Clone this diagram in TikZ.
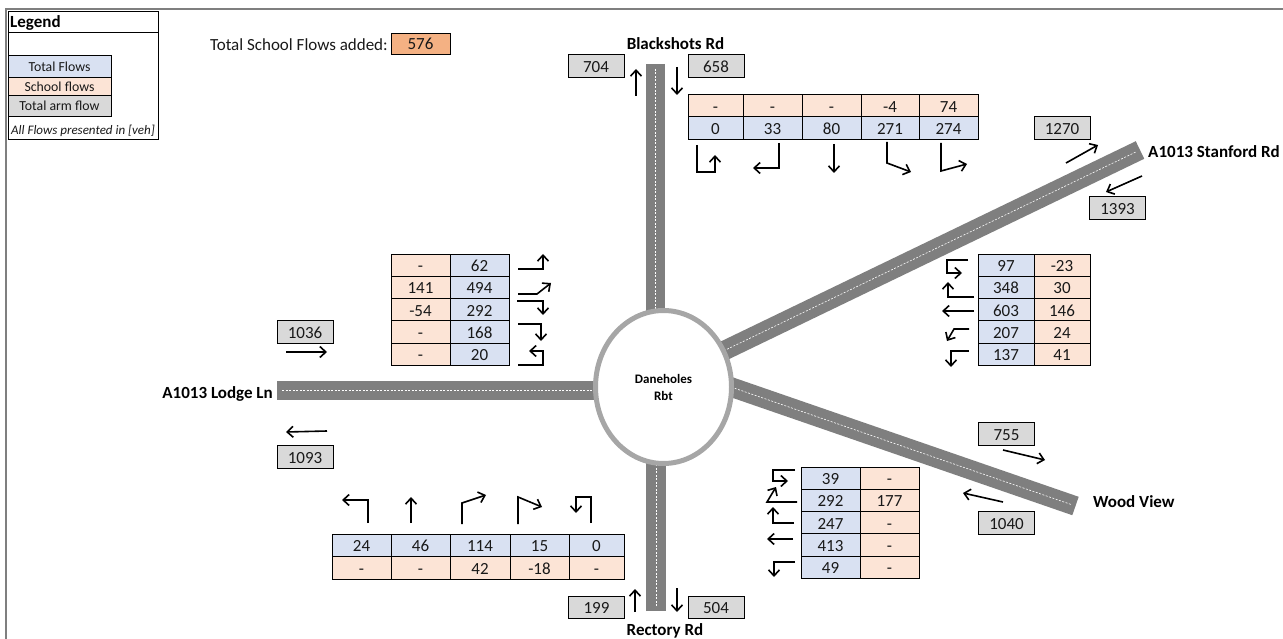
\documentclass[tikz,border=0pt]{standalone}
\usepackage{fontspec}
\setmainfont{Carlito}
\usetikzlibrary{arrows.meta,shapes.geometric}
\definecolor{totalfill}{HTML}{D9E1F2}
\definecolor{schoolfill}{HTML}{FCE4D6}
\definecolor{armfill}{HTML}{D9D9D9}
\definecolor{addedfill}{HTML}{F4B183}
\definecolor{roadgrey}{HTML}{7F7F7F}
\definecolor{ringgrey}{HTML}{A6A6A6}
\begin{document}
\begin{tikzpicture}[x=1pt, y=-1pt, >={Straight Barb[length=6pt,width=11pt]},
    every node/.style={font=\fontsize{17}{19}\selectfont, text=black!90, inner sep=0pt},
    cell/.style={draw=black, line width=0.9pt, minimum height=22.3pt, text height=12.8pt, text depth=0pt},
    totalcell/.style={cell, fill=totalfill},
    schoolcell/.style={cell, fill=schoolfill},
    armbox/.style={cell, fill=armfill, minimum width=56pt},
    legendcell/.style={cell, minimum width=103pt, text height=10.5pt, font=\fontsize{13.8}{15}\selectfont},
    roadname/.style={font=\fontsize{17}{19}\bfseries\selectfont, text=black},
    road/.style={line width=19.5pt, roadgrey},
    laneline/.style={line width=0.6pt, white, dash pattern=on 2pt off 1.5pt},
    flow/.style={line width=1.6pt, black, ->, miter limit=10}]
    % Parameters
    \def\rowheight{22.3}
    \useasboundingbox (0,0) rectangle (1283,639);

    % Outer frame
    \draw[line width=2pt, roadgrey] (6,639) -- (6,9) -- (1283,9);

    % Legend
    \node[draw=black, line width=0.9pt, fill=white, minimum width=150pt, minimum height=128pt] (legend) at (83,75) {};
    \draw[line width=0.9pt] (8,32) -- (158,32);
    \node[anchor=west, font=\fontsize{17}{19}\bfseries\selectfont, text=black] (legendtitle) at (10,22.5) {Legend};
    \node[legendcell, totalcell, text height=10.5pt, font=\fontsize{13.8}{15}\selectfont, minimum height=22pt] (legendtotal) at (59.5,66) {Total Flows};
    \node[legendcell, schoolcell, text height=10.5pt, font=\fontsize{13.8}{15}\selectfont, minimum height=18pt] (legendschool) at (59.5,86) {School flows};
    \node[legendcell, fill=armfill, minimum height=21pt] (legendarm) at (59.5,105.5) {Total arm flow};
    \node[font=\fontsize{13}{15}\itshape\selectfont] (legendnote) at (83,131) {All Flows presented in [veh]};

    % Total added
    \node[anchor=east] (addedlabel) at (388,45) {Total School Flows added:};
    \node[cell, fill=addedfill, minimum width=59pt, minimum height=21pt] (addedvalue) at (420.5,43.5) {576};

    % Road ends
    \coordinate (blackEnd) at (655.5,64);
    \coordinate (blackIn) at (655.5,340);
    \coordinate (rectoryEnd) at (656,611);
    \coordinate (rectoryIn) at (656,440);
    \coordinate (lodgeEnd) at (277,390.5);
    \coordinate (lodgeIn) at (620,390.5);
    \coordinate (stanfordEnd) at (1140,150);
    \coordinate (stanfordIn) at (700,362.3);
    \coordinate (woodEnd) at (1075.5,506);
    \coordinate (woodIn) at (700,376.3);

    % Draw the roads
    \foreach \roadEnd/\roadIn in {blackEnd/blackIn,rectoryEnd/rectoryIn,lodgeEnd/lodgeIn,stanfordEnd/stanfordIn,woodEnd/woodIn} {
        \draw[road] (\roadEnd) -- (\roadIn);
        \draw[laneline, shorten <=5pt] (\roadEnd) -- (\roadIn);
    }

    % Roundabout
    \node[ellipse, draw=ringgrey, line width=5pt, fill=white, minimum width=136pt, minimum height=153pt, align=center,
        font=\fontsize{13}{17}\bfseries\selectfont, text=black] (rbt) at (663.5,387) {Daneholes\\Rbt};

    % Road names
    \node[roadname] (blackName) at (675.5,44) {Blackshots Rd};
    \node[roadname] (rectoryName) at (665,631) {Rectory Rd};
    \node[roadname, anchor=east] (lodgeName) at (273,394) {A1013 Lodge Ln};
    \node[roadname, anchor=west] (stanfordName) at (1148,152) {A1013 Stanford Rd};
    \node[roadname, anchor=west] (woodName) at (1093,502) {Wood View};

    % Arm flows
    \node[armbox] (armBlackOut) at (596,66) {704};
    \node[armbox] (armBlackIn) at (716,66) {658};
    \node[armbox] (armStanfordOut) at (1062,128) {1270};
    \node[armbox] (armStanfordIn) at (1117.5,208) {1393};
    \node[armbox] (armWoodOut) at (1006.5,434) {755};
    \node[armbox] (armWoodIn) at (1006.5,523) {1040};
    \node[armbox] (armRectoryOut) at (596.5,607.5) {199};
    \node[armbox] (armRectoryIn) at (716,607.5) {504};
    \node[armbox] (armLodgeIn) at (305,332) {1036};
    \node[armbox] (armLodgeOut) at (305,457) {1093};

    \draw[flow] (636,96) -- (636,69);
    \draw[flow] (677,67) -- (677,95);
    \draw[flow] (1066,163) -- (1098,145);
    \draw[flow] (1142,176) -- (1106,192);
    \draw[flow] (1003,450) -- (1045,460);
    \draw[flow] (1003,502) -- (963,493);
    \draw[flow] (635,612) -- (635,589);
    \draw[flow] (677,588) -- (677,612);
    \draw[flow] (286,352) -- (327,352);
    \draw[flow] (327,431) -- (286,432);

    % Blackshots Rd table
    \foreach \xa/\xb/\sch/\tot [count=\i] in {688/743/-/0,743/802/-/33,802/861/-/80,861/919/-4/271,919/978/74/274} {
        \pgfmathsetmacro{\cw}{\xb-\xa}
        \node[schoolcell, minimum width=\cw] (blackS\i) at ({(\xa+\xb)/2},106) {\sch};
        \node[totalcell, minimum width=\cw] (blackT\i) at ({(\xa+\xb)/2},128) {\tot};
    }
    \draw[flow] (697,145) -- (697,172) -- (715,172) -- (715,155);
    \draw[flow] (779,143) -- (779,168) -- (753,168);
    \draw[flow] (834,144) -- (834,173);
    \draw[flow] (887,142) -- (887,163) -- (911,172);
    \draw[flow] (941,143) -- (941,171) -- (967,164);

    % Rectory Rd table
    \foreach \xa/\xb/\tot/\sch [count=\i] in {332/391/24/-,391/450/46/-,450/510/114/42,510/569/15/-18,569/624/0/-} {
        \pgfmathsetmacro{\cw}{\xb-\xa}
        \node[totalcell, minimum width=\cw] (rectoryT\i) at ({(\xa+\xb)/2},545.5) {\tot};
        \node[schoolcell, minimum width=\cw] (rectoryS\i) at ({(\xa+\xb)/2},568) {\sch};
    }
    \draw[flow] (368,523) -- (368,500) -- (342,500);
    \draw[flow] (411,523) -- (411,497);
    \draw[flow] (462,524) -- (462,503) -- (486,495);
    \draw[flow] (518,524) -- (518,497) -- (542,507);
    \draw[flow] (591,523) -- (591,497) -- (576,497) -- (576,513);

    % A1013 Lodge Ln table
    \foreach \sch/\tot [count=\i] in {-/62,141/494,-54/292,-/168,-/20} {
        \pgfmathsetmacro{\ypos}{254+(\i-0.5)*\rowheight}
        \node[schoolcell, minimum width=59] (lodgeS\i) at (420.5,\ypos) {\sch};
        \node[totalcell, minimum width=59] (lodgeT\i) at (479.5,\ypos) {\tot};
    }
    \draw[flow] (518,269) -- (543,269) -- (543,254);
    \draw[flow] (518,294) -- (537,294) -- (551,283);
    \draw[flow] (517,301) -- (543,301) -- (543,315);
    \draw[flow] (518,324) -- (541,324) -- (541,341);
    \draw[flow] (518,365) -- (543,365) -- (543,351) -- (529,351);

    % A1013 Stanford Rd table
    \foreach \tot/\sch [count=\i] in {97/-23,348/30,603/146,207/24,137/41} {
        \pgfmathsetmacro{\ypos}{254+(\i-0.5)*\rowheight}
        \node[totalcell, minimum width=56] (stanfordT\i) at (1006,\ypos) {\tot};
        \node[schoolcell, minimum width=56] (stanfordS\i) at (1062,\ypos) {\sch};
    }
    \draw[flow] (968,260) -- (947,260) -- (947,273) -- (962,273);
    \draw[flow] (974,297) -- (948,297) -- (948,282);
    \draw[flow] (974,311) -- (942,311);
    \draw[flow] (969,329) -- (954,329) -- (947,341);
    \draw[flow] (969,351) -- (951,351) -- (951,367);

    % Wood View table
    \foreach \tot/\sch [count=\i] in {39/-,292/177,247/-,413/-,49/-} {
        \pgfmathsetmacro{\ypos}{467+(\i-0.5)*\rowheight}
        \node[totalcell, minimum width=59] (woodT\i) at (830.5,\ypos) {\tot};
        \node[schoolcell, minimum width=59] (woodS\i) at (889.5,\ypos) {\sch};
    }
    \draw[flow] (795,470) -- (773,470) -- (773,481) -- (788,481);
    \draw[flow] (797,502) -- (767,502) -- (776,487);
    \draw[flow] (794,523) -- (773,523) -- (773,507);
    \draw[flow] (793,539) -- (767,539);
    \draw[flow] (795,562) -- (774,562) -- (774,577);
\end{tikzpicture}
\end{document}
